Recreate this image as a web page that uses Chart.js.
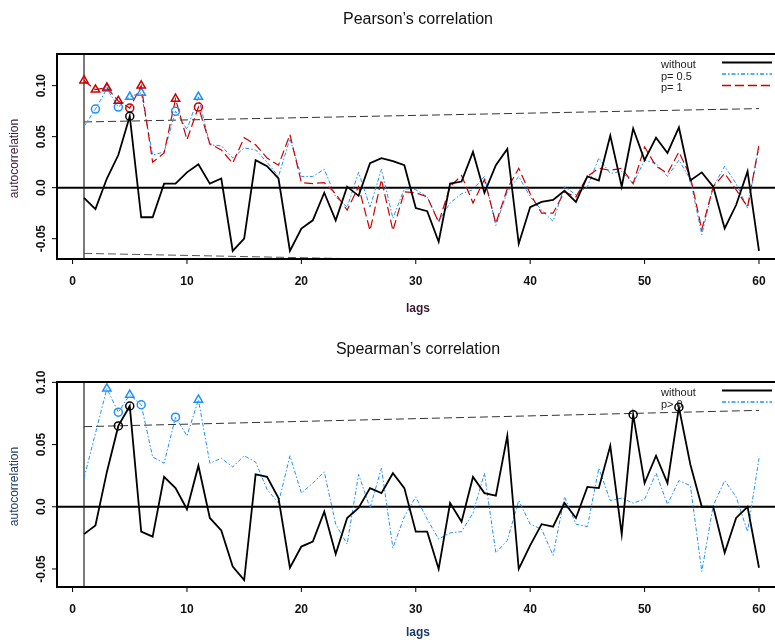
<!DOCTYPE html>
<html lang="en">
<head>
<meta charset="UTF-8">
<title>Pearson and Spearman autocorrelation</title>
<script src="https://cdn.jsdelivr.net/npm/chart.js@4"></script>
<style>
  body { margin: 0; background: #fff; width: 775px; height: 642px; overflow: hidden; position: relative; }
  canvas { position: absolute; left: 0; }
</style>
</head>
<body>
<canvas id="pearson" width="800" height="322" style="top:0"></canvas>
<canvas id="spearman" width="800" height="320" style="top:322px"></canvas>
<script>
// lags and axis ticks
const lags = [1,2,3,4,5,6,7,8,9,10,11,12,13,14,15,16,17,18,19,20,21,22,23,24,25,26,27,28,29,30,
              31,32,33,34,35,36,37,38,39,40,41,42,43,44,45,46,47,48,49,50,51,52,53,54,55,56,57,58,59,60];
const xTicks = [0, 10, 20, 30, 40, 50, 60];
const yTicks = [0.10, 0.05, 0.00, -0.05];
const yTickLabels = ['0.10', '0.05', '0.0', '-0.05'];

// confidence bounds (dashed)
const boundLags = [1, 60];
const upperBound = [0.0644, 0.0775];
const lowerBound = [-0.0644, -0.0775];

// Pearson's correlation
const pearsonWithout = [-0.010,-0.021,0.009,0.032,0.070,-0.029,-0.029,0.004,0.004,0.015,
  0.023,0.004,0.009,-0.062,-0.050,0.027,0.021,0.009,-0.062,-0.040,
  -0.032,-0.005,-0.032,0.001,-0.008,0.024,0.029,0.026,0.022,-0.020,
  -0.023,-0.053,0.004,0.006,0.035,-0.005,0.022,0.038,-0.055,-0.019,
  -0.014,-0.012,-0.003,-0.014,0.011,0.007,0.051,0.001,0.058,0.027,
  0.049,0.034,0.059,0.007,0.015,0.001,-0.040,-0.017,0.016,-0.062];
const pearsonP05 = [0.060,0.077,0.097,0.079,0.089,0.093,0.032,0.035,0.075,0.057,
  0.089,0.042,0.041,0.029,0.039,0.037,0.025,0.011,0.048,0.011,
  0.011,0.018,-0.009,-0.019,0.015,-0.019,0.018,-0.030,-0.001,-0.002,
  -0.009,-0.033,-0.015,-0.006,-0.002,0.011,-0.037,-0.004,0.011,-0.009,
  -0.022,-0.033,0.001,-0.007,0.001,0.029,0.014,0.016,0.004,0.027,
  0.024,0.011,0.027,0.008,-0.046,0.001,0.021,0.004,-0.020,0.040];
const pearsonP1 = [0.105,0.096,0.098,0.085,0.078,0.100,0.025,0.034,0.087,0.047,
  0.079,0.043,0.037,0.024,0.049,0.042,0.029,0.022,0.052,0.005,
  0.004,0.005,-0.006,-0.022,0.001,-0.042,0.008,-0.042,-0.004,-0.005,
  -0.009,-0.034,0.001,0.012,-0.015,0.008,-0.035,-0.001,0.019,-0.006,
  -0.025,-0.025,-0.004,-0.009,0.011,0.019,0.017,0.019,0.004,0.040,
  0.021,0.014,0.035,0.011,-0.041,0.001,0.014,-0.002,-0.019,0.042];

// Spearman's correlation
const spearmanWithout = [-0.022,-0.015,0.028,0.065,0.081,-0.020,-0.024,0.024,0.015,-0.002,
  0.033,-0.009,-0.019,-0.048,-0.059,0.026,0.024,0.007,-0.049,-0.032,
  -0.028,-0.004,-0.038,-0.009,-0.001,0.015,0.011,0.027,0.015,-0.020,
  -0.020,-0.050,0.003,-0.012,0.024,0.011,0.009,0.057,-0.050,-0.031,
  -0.014,-0.016,0.003,-0.009,0.016,0.015,0.049,-0.022,0.074,0.019,
  0.041,0.019,0.080,0.034,0.000,0.000,-0.037,-0.009,0.000,-0.049];
const spearmanP0 = [0.023,0.059,0.095,0.076,0.090,0.082,0.040,0.035,0.072,0.057,
  0.086,0.035,0.039,0.032,0.041,0.036,0.014,0.003,0.041,0.011,
  0.019,0.028,-0.014,-0.030,0.026,-0.001,0.031,-0.033,-0.008,0.008,
  -0.010,-0.026,-0.021,-0.020,-0.005,0.027,-0.037,-0.027,0.005,-0.014,
  -0.018,-0.039,0.008,-0.014,-0.016,0.031,0.005,0.007,0.003,0.006,
  0.027,0.002,0.021,0.017,-0.052,0.001,0.021,0.008,-0.020,0.039];

// lags carrying a marker
const pearsonRedTri = [1, 2, 3, 4, 6, 9];
const pearsonRedCirc = [5, 11];
const pearsonBlueTri = [3, 5, 6, 11];
const pearsonBlueCirc = [2, 4, 9];
const pearsonBlackCirc = [5];
const spearmanBlueTri = [3, 5, 11];
const spearmanBlueCirc = [4, 6, 9];
const spearmanBlackCirc = [4, 5, 49, 53];

const BLACK = '#000000', BLUE = '#1e90ff', RED = '#d00000';
const DASH_BLUE = [4, 2, 1.5, 2], DASH_RED = [9, 4];
const FONT = '"Liberation Sans", Arial, sans-serif';

function pts(xs, ys) { return xs.map((x, i) => ({ x: x, y: ys[i] })); }
function marks(sel, ys) { return sel.map(l => ({ x: l, y: ys[lags.indexOf(l)] })); }

function lineSet(data, color, dash, width, order) {
  return { data: pts(lags, data), borderColor: color, borderDash: dash, borderWidth: width,
           pointRadius: 0, fill: false, order: order };
}
function markerSet(data, color, style, order) {
  return { data: data, showLine: false, pointStyle: style,
           pointRadius: style === 'triangle' ? 4.8 : 4,
           pointBorderColor: color, pointBackgroundColor: 'rgba(0,0,0,0)',
           pointBorderWidth: 1.5, order: order };
}
function boundSet(data, color) {
  return { data: pts(boundLags, data), borderColor: color, borderDash: [8, 4], borderWidth: 1,
           pointRadius: 0, fill: false, order: 9 };
}

// draws the R-style frame, ticks, labels, titles and legend
function rStyle(cfg) {
  return {
    id: 'rStyle',
    beforeDatasetsDraw(chart) {
      const { ctx, chartArea: a, scales: { x, y } } = chart;
      ctx.save();
      ctx.strokeStyle = '#000';
      ctx.lineWidth = 2;
      const y0 = y.getPixelForValue(0);
      ctx.beginPath(); ctx.moveTo(a.left, y0); ctx.lineTo(a.right, y0); ctx.stroke();
      ctx.lineWidth = 1.2;
      ctx.strokeStyle = '#222';
      const x1 = x.getPixelForValue(1);
      ctx.beginPath(); ctx.moveTo(x1, a.top); ctx.lineTo(x1, a.bottom); ctx.stroke();
      ctx.restore();
    },
    afterDatasetsDraw(chart) {
      const { ctx, chartArea: a, scales: { x, y } } = chart;
      ctx.save();
      ctx.strokeStyle = '#000';
      ctx.lineWidth = 2;
      ctx.strokeRect(a.left, a.top, a.right - a.left, a.bottom - a.top);

      // x axis
      ctx.lineWidth = 1;
      ctx.fillStyle = '#111';
      ctx.font = 'bold 12px ' + FONT;
      ctx.textAlign = 'center';
      ctx.textBaseline = 'middle';
      xTicks.forEach(v => {
        const px = x.getPixelForValue(v);
        ctx.beginPath(); ctx.moveTo(px, a.bottom); ctx.lineTo(px, a.bottom + 5); ctx.stroke();
        ctx.fillText(String(v), px, a.bottom + 23);
      });
      // y axis
      yTicks.forEach((v, i) => {
        const py = y.getPixelForValue(v);
        ctx.beginPath(); ctx.moveTo(a.left - 5, py); ctx.lineTo(a.left, py); ctx.stroke();
        ctx.save();
        ctx.translate(42, py);
        ctx.rotate(-Math.PI / 2);
        ctx.fillText(yTickLabels[i], 0, 0);
        ctx.restore();
      });

      // axis titles
      ctx.fillStyle = cfg.labelColor;
      ctx.font = 'bold 12px ' + FONT;
      ctx.fillText('lags', 418, a.bottom + cfg.lagsOffset);
      ctx.font = '12px ' + FONT;
      ctx.save();
      ctx.translate(15, (a.top + a.bottom) / 2 + 2);
      ctx.rotate(-Math.PI / 2);
      ctx.fillText('autocorrelation', 0, 0);
      ctx.restore();

      // main title
      ctx.fillStyle = '#111';
      ctx.font = '16px ' + FONT;
      ctx.fillText(cfg.title, 418, a.top - cfg.titleOffset);

      // legend
      ctx.font = '11px ' + FONT;
      ctx.textAlign = 'left';
      cfg.legend.forEach((item, i) => {
        const ty = a.top + cfg.legendTop + i * 11.5;
        ctx.fillStyle = '#222';
        ctx.fillText(item.label, 661, ty);
        ctx.strokeStyle = item.color;
        ctx.lineWidth = item.width;
        ctx.setLineDash(item.dash);
        ctx.beginPath(); ctx.moveTo(722, ty - 2.5); ctx.lineTo(772, ty - 2.5); ctx.stroke();
        ctx.setLineDash([]);
      });
      ctx.restore();
    }
  };
}

function makeChart(id, datasets, yMin, yMax, padding, cfg) {
  return new Chart(document.getElementById(id), {
    type: 'line',
    data: { datasets: datasets },
    options: {
      responsive: false,
      animation: false,
      devicePixelRatio: 1,
      layout: { padding: padding },
      elements: { line: { tension: 0 } },
      scales: {
        x: { type: 'linear', min: -1.36, max: 62.36, display: false },
        y: { type: 'linear', min: yMin, max: yMax, display: false }
      },
      plugins: { legend: { display: false }, tooltip: { enabled: false } }
    },
    plugins: [rStyle(cfg)]
  });
}

makeChart('pearson', [
  boundSet(upperBound, '#333'),
  boundSet(lowerBound, '#555'),
  lineSet(pearsonP05, BLUE, DASH_BLUE, 1, 5),
  lineSet(pearsonP1, RED, DASH_RED, 1.2, 4),
  lineSet(pearsonWithout, BLACK, [], 1.8, 3),
  markerSet(marks(pearsonBlueTri, pearsonP05), BLUE, 'triangle', 2),
  markerSet(marks(pearsonBlueCirc, pearsonP05), BLUE, 'circle', 2),
  markerSet(marks(pearsonRedTri, pearsonP1), RED, 'triangle', 1),
  markerSet(marks(pearsonRedCirc, pearsonP1), RED, 'circle', 1),
  markerSet(marks(pearsonBlackCirc, pearsonWithout), BLACK, 'circle', 0)
], -0.0699, 0.131, { left: 57, top: 54, right: 14, bottom: 63 }, {
  title: 'Pearson\u2019s correlation', titleOffset: 34, lagsOffset: 50,
  labelColor: '#3a1a33', legendTop: 11,
  legend: [
    { label: 'without', color: BLACK, dash: [], width: 1.8 },
    { label: 'p= 0.5', color: BLUE, dash: DASH_BLUE, width: 1.4 },
    { label: 'p= 1', color: RED, dash: DASH_RED, width: 1.6 }
  ]
});

makeChart('spearman', [
  boundSet(upperBound, '#333'),
  boundSet(lowerBound, '#555'),
  lineSet(spearmanP0, BLUE, DASH_BLUE, 1, 5),
  lineSet(spearmanWithout, BLACK, [], 1.8, 3),
  markerSet(marks(spearmanBlueTri, spearmanP0), BLUE, 'triangle', 2),
  markerSet(marks(spearmanBlueCirc, spearmanP0), BLUE, 'circle', 2),
  markerSet(marks(spearmanBlackCirc, spearmanWithout), BLACK, 'circle', 0)
], -0.0645, 0.1003, { left: 57, top: 60, right: 14, bottom: 55 }, {
  title: 'Spearman\u2019s correlation', titleOffset: 32, lagsOffset: 46,
  labelColor: '#1c3a63', legendTop: 11,
  legend: [
    { label: 'without', color: BLACK, dash: [], width: 1.8 },
    { label: 'p> 0', color: BLUE, dash: DASH_BLUE, width: 1.4 }
  ]
});
</script>
</body>
</html>
